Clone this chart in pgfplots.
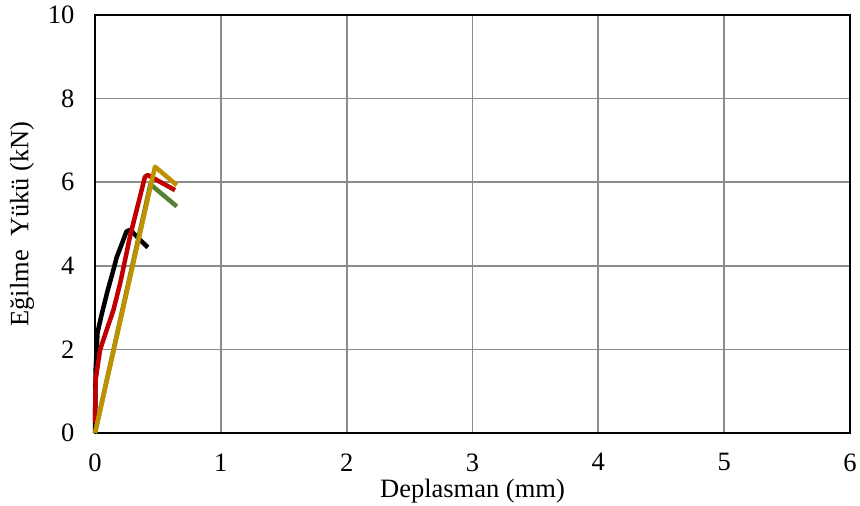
\documentclass[border=0pt]{standalone}
\usepackage{pgfplots}
\pgfplotsset{compat=1.18}
\usepackage{fontspec}
\setmainfont{Liberation Serif}
\definecolor{cgreen}{HTML}{548235}
\definecolor{cred}{HTML}{C00000}
\definecolor{cgold}{HTML}{BF9000}
\definecolor{cgrid}{HTML}{8C8C8C}
\begin{document}
\begin{tikzpicture}
\path[use as bounding box] (-95bp,-73bp) rectangle (765bp,433bp);
\begin{axis}[
  scale only axis,
  width=755bp, height=418bp,
  xmin=0, xmax=6, ymin=0, ymax=10,
  xtick={0,1,2,3,4,5,6}, ytick={0,2,4,6,8,10},
  grid=major,
  major grid style={cgrid, line width=1.8bp},
  axis line style={black, line width=2bp},
  major tick length=0pt,
  /pgf/number format/assume math mode=true,
  tick label style={font=\fontsize{26.5bp}{31bp}\selectfont},
  label style={font=\fontsize{26.5bp}{31bp}\selectfont},
  xticklabel style={yshift=-17bp},
  yticklabel style={xshift=-17bp},
  xlabel={Deplasman (mm)},
  ylabel={Eğilme\ \ Yükü (kN)},
  xlabel style={at={(axis description cs:0.5,0)}, anchor=base, yshift=-64bp},
  ylabel style={at={(axis description cs:-0.0967,0.5)}, anchor=center},
  clip=false,
]
\addplot[black, line width=4.5bp, line join=round] coordinates {
(0,0) (0.005,1.5) (0.02,2.4) (0.05,2.8) (0.1,3.4) (0.146,3.9) (0.172,4.2) (0.21,4.5) (0.25,4.82) (0.28,4.86) (0.345,4.66) (0.42,4.44)};
\addplot[cgreen, line width=4.5bp, line join=round] coordinates {
(0,0) (0.44,5.95) (0.65,5.42)};
\addplot[cred, line width=4.5bp, line join=round] coordinates {
(0,0.24) (0.005,1.27) (0.04,1.99) (0.146,2.94) (0.2,3.58) (0.278,4.7) (0.397,6.13) (0.42,6.17) (0.636,5.81)};
\addplot[cgold, line width=4.5bp, line join=round] coordinates {
(0,0) (0.477,6.37) (0.65,5.93)};
\end{axis}
\end{tikzpicture}
\end{document}
